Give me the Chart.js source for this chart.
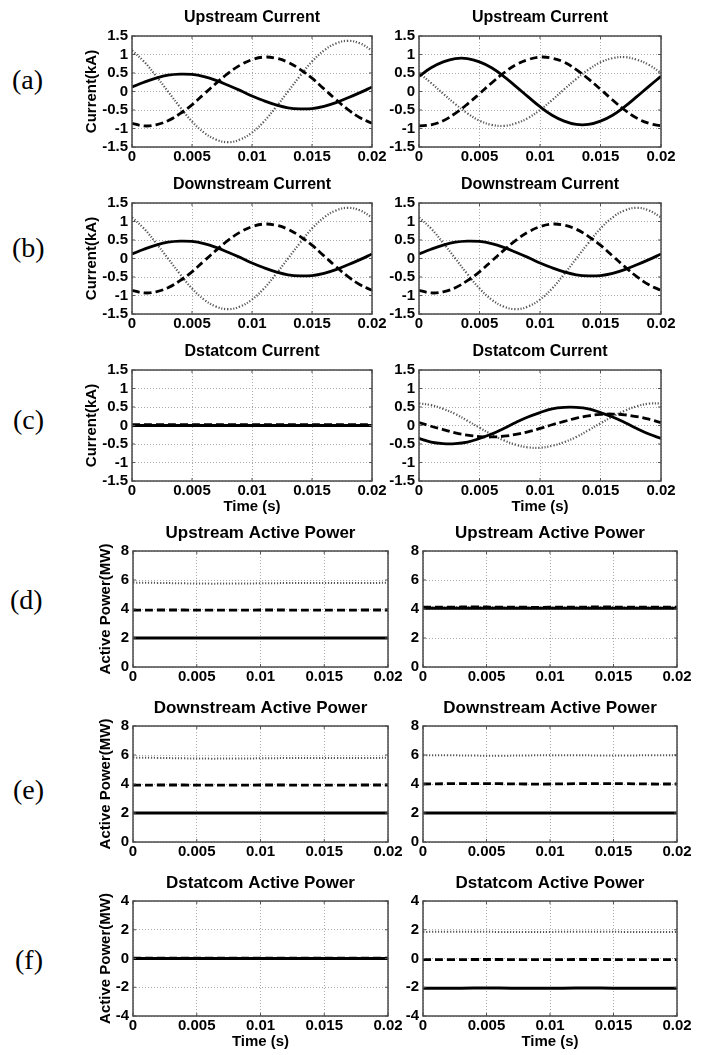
<!DOCTYPE html>
<html><head><meta charset="utf-8">
<script src="https://cdn.jsdelivr.net/npm/chart.js@4"></script>
<style>
body{margin:0;background:#fff;width:710px;height:1055px;position:relative;overflow:hidden}
canvas{position:absolute}
.lbl{position:absolute;font-family:'Liberation Serif','Times New Roman',serif;font-size:28px;line-height:32px;color:#000}
</style></head><body>
<div class="lbl" style="left:12px;top:64px">(a)</div>
<div class="lbl" style="left:12px;top:232px">(b)</div>
<div class="lbl" style="left:13px;top:404px">(c)</div>
<div class="lbl" style="left:10px;top:584px">(d)</div>
<div class="lbl" style="left:13px;top:774px">(e)</div>
<div class="lbl" style="left:15px;top:944px">(f)</div>
<script>
// ---------- time axes & tick labels ----------
const timeC = [0,0.001,0.002,0.003,0.004,0.005,0.006,0.007,0.008,0.009,0.01,0.011,0.012,0.013,0.014,0.015,0.016,0.017,0.018,0.019,0.02];
const timeP = [0,0.002,0.004,0.006,0.008,0.01,0.012,0.014,0.016,0.018,0.02];
const xTickVals = [0,0.005,0.01,0.015,0.02];
const xTickLabels = ['0','0.005','0.01','0.015','0.02'];
const curTickVals = [-1.5,-1,-0.5,0,0.5,1,1.5];
const curTickLabels = ['-1.5','-1','-0.5','0','0.5','1','1.5'];
const powTickVals = [0,2,4,6,8];
const powTickLabels = ['0','2','4','6','8'];
const dpowTickVals = [-4,-2,0,2,4];
const dpowTickLabels = ['-4','-2','0','2','4'];

// ---------- currents (kA) ----------
// load current: upstream before compensation and downstream (both cases)
const loadSolid  = [0.12,0.25,0.36,0.44,0.47,0.46,0.40,0.30,0.17,0.03,-0.12,-0.25,-0.36,-0.44,-0.47,-0.46,-0.40,-0.30,-0.17,-0.03,0.12];
const loadDashed = [-0.86,-0.93,-0.90,-0.79,-0.60,-0.36,-0.07,0.22,0.49,0.71,0.86,0.93,0.90,0.79,0.60,0.36,0.07,-0.22,-0.49,-0.71,-0.86];
const loadDotted = [1.11,0.81,0.42,0.00,-0.42,-0.81,-1.11,-1.30,-1.37,-1.30,-1.11,-0.81,-0.42,0.00,0.42,0.81,1.11,1.30,1.37,1.30,1.11];
// upstream after compensation
const upAfterSolid  = [0.41,0.64,0.80,0.89,0.89,0.80,0.64,0.41,0.14,-0.14,-0.41,-0.64,-0.80,-0.89,-0.89,-0.80,-0.64,-0.41,-0.14,0.14,0.41];
const upAfterDashed = [-0.93,-0.90,-0.79,-0.59,-0.34,-0.06,0.23,0.50,0.72,0.86,0.93,0.90,0.79,0.59,0.34,0.06,-0.23,-0.50,-0.72,-0.86,-0.93];
const upAfterDotted = [0.50,0.23,-0.06,-0.34,-0.59,-0.79,-0.90,-0.93,-0.86,-0.72,-0.50,-0.23,0.06,0.34,0.59,0.79,0.90,0.93,0.86,0.72,0.50];
// dstatcom current, before (off) and after
const dstBeforeSolid  = [0.00,0.00,0.00,0.00,0.00,0.00,0.00,0.00,0.00,0.00,0.00];
const dstBeforeDashed = [0.02,0.02,0.02,0.02,0.02,0.02,0.02,0.02,0.02,0.02,0.02];
const dstBeforeDotted = [0.01,0.01,0.01,0.01,0.01,0.01,0.01,0.01,0.01,0.01,0.01];
const dstAfterSolid  = [-0.35,-0.45,-0.49,-0.49,-0.45,-0.35,-0.23,-0.08,0.08,0.23,0.35,0.45,0.49,0.49,0.45,0.35,0.23,0.08,-0.08,-0.23,-0.35];
const dstAfterDashed = [0.08,-0.02,-0.11,-0.20,-0.26,-0.30,-0.31,-0.29,-0.24,-0.17,-0.08,0.02,0.11,0.20,0.26,0.30,0.31,0.29,0.24,0.17,0.08];
const dstAfterDotted = [0.60,0.55,0.45,0.31,0.13,-0.06,-0.24,-0.40,-0.52,-0.59,-0.60,-0.55,-0.45,-0.31,-0.13,0.06,0.24,0.40,0.52,0.59,0.60];

// ---------- active power (MW) ----------
const loadPowSolid  = [2.00,2.00,2.00,2.00,2.00,2.00,2.00,2.00,2.00,2.00,2.00];
const loadPowDashed = [3.92,3.93,3.93,3.92,3.92,3.93,3.93,3.92,3.92,3.93,3.93];
const loadPowDotted = [5.82,5.80,5.77,5.75,5.76,5.77,5.79,5.80,5.80,5.79,5.81];
const upPowAfterSolid  = [4.06,4.06,4.06,4.06,4.06,4.06,4.06,4.06,4.06,4.06,4.06];
const upPowAfterDashed = [4.12,4.13,4.14,4.13,4.12,4.12,4.13,4.14,4.13,4.12,4.12];
const upPowAfterDotted = [4.10,4.11,4.12,4.11,4.10,4.10,4.11,4.12,4.11,4.10,4.10];
const downPowAfterSolid  = [2.00,2.00,2.00,2.00,2.00,2.00,2.00,2.00,2.00,2.00,2.00];
const downPowAfterDashed = [4.00,4.02,4.03,4.02,4.00,4.00,4.02,4.03,4.02,4.00,4.00];
const downPowAfterDotted = [5.98,5.98,5.96,5.95,5.97,5.98,5.98,5.97,5.97,5.98,5.98];
const dstPowBeforeSolid  = [0.00,0.00,0.00,0.00,0.00,0.00,0.00,0.00,0.00,0.00,0.00];
const dstPowBeforeDashed = [0.02,0.02,0.02,0.02,0.02,0.02,0.02,0.02,0.02,0.02,0.02];
const dstPowBeforeDotted = [0.01,0.01,0.01,0.01,0.01,0.01,0.01,0.01,0.01,0.01,0.01];
const dstPowAfterSolid  = [-2.07,-2.07,-2.06,-2.06,-2.07,-2.07,-2.06,-2.06,-2.07,-2.07,-2.07];
const dstPowAfterDashed = [-0.08,-0.08,-0.07,-0.07,-0.08,-0.08,-0.07,-0.07,-0.08,-0.08,-0.08];
const dstPowAfterDotted = [1.85,1.86,1.86,1.85,1.84,1.85,1.86,1.86,1.85,1.84,1.85];

// ---------- layout (positions only) ----------
const COL_CUR = [{cl:0,L:132,R:372},{cl:359,L:419,R:661}];
const COL_POW = [{cl:0,L:133,R:388},{cl:363,L:423,R:677}];
const ROWS = {a:[36,147],b:[203,314],c:[370,481],d:[551,667],e:[726,842],f:[901,1016]};

const FONT = "'Liberation Sans', Arial, Helvetica, sans-serif";
const STY = {
  solid:{color:'#000',dash:[],order:1},
  dashed:{color:'#000',dash:[8,4],order:0},
  dotted:{color:'#555',dash:[1.2,1.8],order:2}
};

const framePlugin = {
  id:'frame',
  afterDraw(chart){
    const {ctx, chartArea:a, scales} = chart;
    ctx.save();
    ctx.strokeStyle = '#555';
    ctx.lineWidth = 1;
    ctx.beginPath();
    scales.x.ticks.forEach(t=>{
      const px = scales.x.getPixelForValue(t.value);
      ctx.moveTo(px,a.bottom); ctx.lineTo(px,a.bottom-3);
      ctx.moveTo(px,a.top); ctx.lineTo(px,a.top+3);
    });
    scales.y.ticks.forEach(t=>{
      const py = scales.y.getPixelForValue(t.value);
      ctx.moveTo(a.left,py); ctx.lineTo(a.left+3,py);
      ctx.moveTo(a.right,py); ctx.lineTo(a.right-3,py);
    });
    ctx.stroke();
    ctx.lineWidth = 1.5;
    ctx.strokeStyle = '#4a4a4a';
    ctx.strokeRect(a.left, a.top, a.right-a.left, a.bottom-a.top);
    ctx.restore();
  }
};

function makePanel(p){
  const col = p.col, [T,B] = p.row;
  const YW = col.L - col.cl, PT = 34, PR = 30, XH = 45;
  const W = (col.R - col.L) + YW + PR;
  const H = PT + (B - T) + XH;
  const cv = document.createElement('canvas');
  cv.style.left = col.cl+'px'; cv.style.top = (T-PT)+'px';
  cv.style.width = W+'px'; cv.style.height = H+'px';
  cv.width = W; cv.height = H;
  document.body.appendChild(cv);
  const names = ['solid','dashed','dotted'];
  const lw = p.power ? [3,2.8,2] : [2.8,2.8,2.2];
  const datasets = p.series.map((ys,i)=>({
    data: ys.map((y,k)=>({x:p.t[k], y})),
    borderColor: STY[names[i]].color,
    borderWidth: lw[i],
    borderDash: STY[names[i]].dash,
    order: STY[names[i]].order,
    pointRadius: 0,
    tension: 0.4,
    fill: false
  }));
  new Chart(cv, {
    type:'line',
    data:{datasets},
    plugins:[framePlugin],
    options:{
      responsive:false, animation:false,
      layout:{padding:{top:PT-28,right:PR,bottom:0,left:0}},
      plugins:{
        legend:{display:false}, tooltip:{enabled:false},
        title:{display:true, text:p.title, fullSize:false, color:'#000',
          font:{family:FONT, size:p.power?17:16, weight:'bold', lineHeight:'20px'},
          padding:{top:0,bottom:8}}
      },
      scales:{
        x:{type:'linear', min:0, max:0.02,
          afterBuildTicks:s=>{s.ticks = xTickVals.map(v=>({value:v}));},
          afterFit:s=>{s.height = XH;},
          ticks:{callback:(v,i)=>xTickLabels[i], autoSkip:false, maxRotation:0, minRotation:0,
            padding:1, color:'#000', font:{family:FONT,size:15,weight:'bold',lineHeight:'18px'}},
          grid:{color:'#aaa', lineWidth:1, drawTicks:false},
          border:{display:false, dash:[1,2]},
          title:{display:!!p.xTitle, text:p.xTitle||'', color:'#000',
            font:{family:FONT,size:15,weight:'bold',lineHeight:'18px'}, padding:{top:0,bottom:10}}
        },
        y:{type:'linear', min:p.yVals[0], max:p.yVals[p.yVals.length-1],
          afterBuildTicks:s=>{s.ticks = p.yVals.map(v=>({value:v}));},
          afterFit:s=>{s.width = YW;},
          ticks:{callback:(v,i)=>p.yLabels[i], autoSkip:false, padding:4, color:'#000',
            font:{family:FONT,size:15,weight:'bold',lineHeight:'18px'}},
          grid:{color:'#aaa', lineWidth:1, drawTicks:false},
          border:{display:false, dash:[1,2]},
          title:{display:!!p.yTitle, text:p.yTitle||'', color:'#000',
            font:{family:FONT,size:15,weight:'bold',lineHeight:'18px'},
            padding:{top:p.yTitlePad||0,bottom:0}}
        }
      }
    }
  });
}

const cur = {yVals:curTickVals, yLabels:curTickLabels};
const panels = [
  {title:'Upstream Current', col:COL_CUR[0], row:ROWS.a, t:timeC, series:[loadSolid,loadDashed,loadDotted], ...cur, yTitle:'Current(kA)', yTitlePad:83},
  {title:'Upstream Current', col:COL_CUR[1], row:ROWS.a, t:timeC, series:[upAfterSolid,upAfterDashed,upAfterDotted], ...cur},
  {title:'Downstream Current', col:COL_CUR[0], row:ROWS.b, t:timeC, series:[loadSolid,loadDashed,loadDotted], ...cur, yTitle:'Current(kA)', yTitlePad:83},
  {title:'Downstream Current', col:COL_CUR[1], row:ROWS.b, t:timeC, series:[loadSolid,loadDashed,loadDotted], ...cur},
  {title:'Dstatcom Current', col:COL_CUR[0], row:ROWS.c, t:timeP, series:[dstBeforeSolid,dstBeforeDashed,dstBeforeDotted], ...cur, yTitle:'Current(kA)', yTitlePad:83, xTitle:'Time (s)'},
  {title:'Dstatcom Current', col:COL_CUR[1], row:ROWS.c, t:timeC, series:[dstAfterSolid,dstAfterDashed,dstAfterDotted], ...cur, xTitle:'Time (s)'},
  {title:'Upstream Active Power', power:true, col:COL_POW[0], row:ROWS.d, t:timeP, series:[loadPowSolid,loadPowDashed,loadPowDotted], yVals:powTickVals, yLabels:powTickLabels, yTitle:'Active Power(MW)', yTitlePad:97},
  {title:'Upstream Active Power', power:true, col:COL_POW[1], row:ROWS.d, t:timeP, series:[upPowAfterSolid,upPowAfterDashed,upPowAfterDotted], yVals:powTickVals, yLabels:powTickLabels},
  {title:'Downstream Active Power', power:true, col:COL_POW[0], row:ROWS.e, t:timeP, series:[loadPowSolid,loadPowDashed,loadPowDotted], yVals:powTickVals, yLabels:powTickLabels, yTitle:'Active Power(MW)', yTitlePad:97},
  {title:'Downstream Active Power', power:true, col:COL_POW[1], row:ROWS.e, t:timeP, series:[downPowAfterSolid,downPowAfterDashed,downPowAfterDotted], yVals:powTickVals, yLabels:powTickLabels},
  {title:'Dstatcom Active Power', power:true, col:COL_POW[0], row:ROWS.f, t:timeP, series:[dstPowBeforeSolid,dstPowBeforeDashed,dstPowBeforeDotted], yVals:dpowTickVals, yLabels:dpowTickLabels, yTitle:'Active Power(MW)', yTitlePad:97, xTitle:'Time (s)'},
  {title:'Dstatcom Active Power', power:true, col:COL_POW[1], row:ROWS.f, t:timeP, series:[dstPowAfterSolid,dstPowAfterDashed,dstPowAfterDotted], yVals:dpowTickVals, yLabels:dpowTickLabels, xTitle:'Time (s)'}
];
panels.forEach(makePanel);
</script>
</body></html>
